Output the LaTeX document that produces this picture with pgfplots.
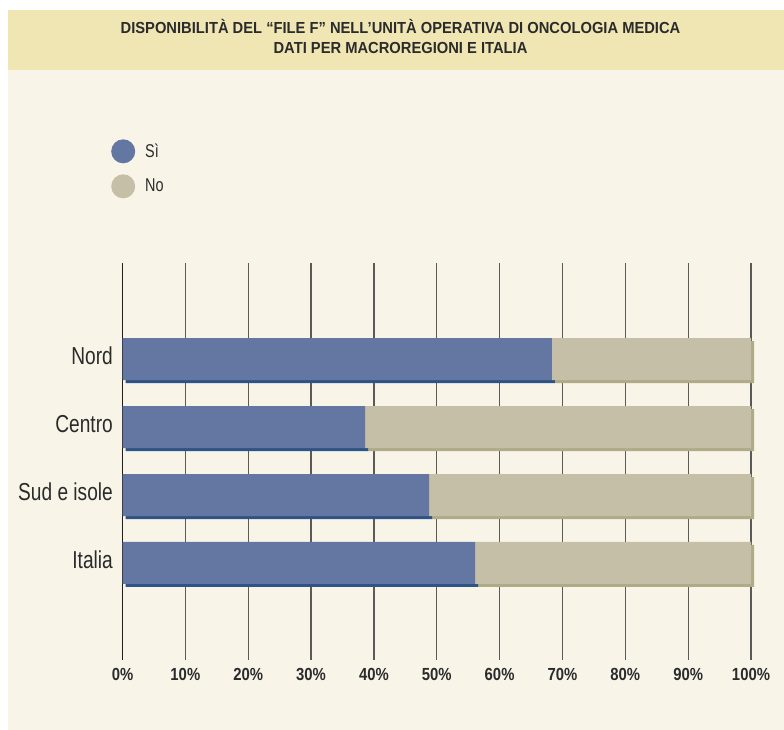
\documentclass[border=0pt]{standalone}
\usepackage{fontspec}
\setmainfont{Liberation Sans}
\newfontfamily\cond{Liberation Sans}[FakeStretch=0.78]
\newfontfamily\condb{Liberation Sans}[FakeStretch=0.85]
\newfontfamily\condt{Liberation Sans}[FakeStretch=0.92]
\usepackage{pgfplots}
\usepackage{pgfplotstable}
\pgfplotsset{compat=1.18}
\definecolor{si}{HTML}{6477A2}
\definecolor{sish}{HTML}{2E5385}
\definecolor{no}{HTML}{C5BFA7}
\definecolor{nosh}{HTML}{AFAA88}
\definecolor{bg}{HTML}{F8F5E8}
\definecolor{band}{HTML}{F0E6B3}
\definecolor{gridc}{HTML}{5A5A58}
\definecolor{txt}{HTML}{2B2B2B}
\pgfplotstableread{
cat si no
0 56.1 43.9
1 48.8 51.2
2 38.6 61.4
3 68.3 31.7
}\data
\pgfplotsset{base/.style={scale only axis, width=628.5pt, height=397pt,
  xmin=0, xmax=100, ymin=-1.4265, ymax=4.412, anchor=south west, clip=false},
  circlegend/.style={legend image code/.code={\fill[##1] (12pt,0pt) circle (12pt);}}}
\begin{document}
\begin{tikzpicture}
\fill[white] (0pt,0pt) rectangle (784pt,730pt);
\fill[bg] (8pt,0pt) rectangle (784pt,660pt);
\fill[band] (8pt,660pt) rectangle (784pt,720pt);
\node[font=\condt\bfseries\fontsize{16}{20}\selectfont, text=txt, align=center, anchor=center] at (400.5pt,693.5pt)
  {DISPONIBILITÀ DEL “FILE F” NELL’UNITÀ OPERATIVA DI ONCOLOGIA MEDICA\\DATI PER MACROREGIONI E ITALIA};
% grid and labels
\begin{axis}[base, at={(122.5pt,70pt)},
  axis line style={draw=none},
  xtick={10,20,...,100}, extra x ticks={0},
  extra x tick style={grid style={color=black!88, line width=1.3pt}},
  xmajorgrids, grid style={color=gridc, line width=1.3pt},
  major tick length=0pt,
  /pgf/number format/assume math mode=true,
  xticklabel={\pgfmathprintnumber{\tick}\%},
  xticklabel style={font=\condb\bfseries\fontsize{17.5}{18}\selectfont, text=txt, inner sep=0pt},
  xticklabel shift=8pt,
  ytick={0,1,2,3}, yticklabels={Italia,Sud e isole,Centro,Nord},
  yticklabel style={font=\cond\fontsize{24.5}{26}\selectfont, text=txt, inner sep=0pt, yshift=3pt},
  yticklabel shift=9.5pt,
]
\addplot[draw=none] coordinates {(0,0)};
\end{axis}
% shadows
\begin{axis}[base, at={(125.5pt,67pt)}, hide axis, xbar stacked, bar width=42pt]
\addplot[fill=sish, draw=none] table[x=si, y=cat] {\data};
\addplot[fill=nosh, draw=none] table[x=no, y=cat] {\data};
\end{axis}
% bars
\begin{axis}[base, at={(122.5pt,70pt)}, hide axis, xbar stacked, bar width=42pt,
  legend style={draw=none, fill=none, inner sep=0pt, at={(-0.0183,1.312)}, anchor=north west,
    row sep=11pt, column sep=10pt, font=\cond\fontsize{18.5}{20}\selectfont, text=txt,
    nodes={inner sep=0pt}},
  legend cell align=left]
\addplot[fill=si, draw=none, circlegend] table[x=si, y=cat] {\data};
\addplot[fill=no, draw=none, circlegend] table[x=no, y=cat] {\data};
\legend{Sì,No}
\end{axis}
\end{tikzpicture}
\end{document}
